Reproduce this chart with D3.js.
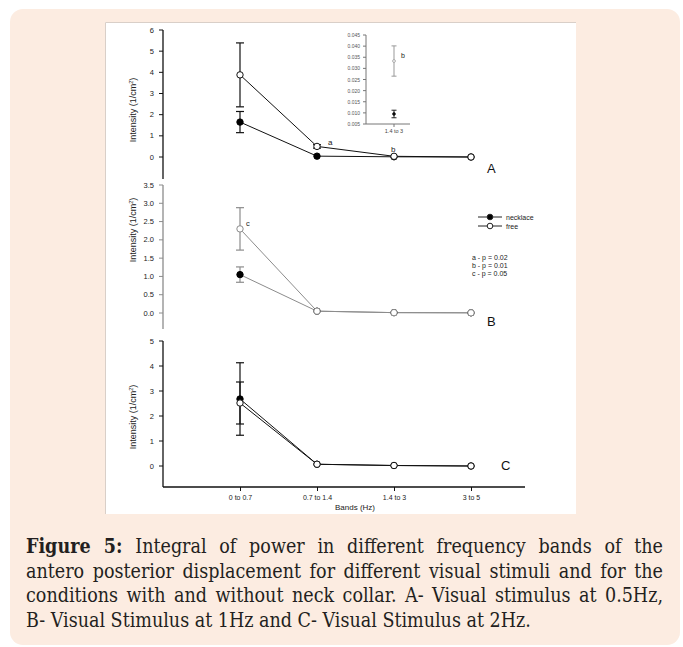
<!DOCTYPE html>
<html>
<head>
<meta charset="utf-8">
<script src="https://cdn.jsdelivr.net/npm/d3@7"></script>
<style>
  body { margin: 0; background: #fff; }
  #card { position: absolute; left: 10px; top: 9px; width: 670px; height: 636px; background: #fcece1; border-radius: 13px; }
  svg#viz { position: absolute; left: 0; top: 0; }
  #caption { position: absolute; left: 26px; top: 535px; width: 637px; font-family: "DejaVu Serif Condensed", "DejaVu Serif", serif; font-stretch: condensed; font-size: 19.5px; color: #231f20; line-height: 24.7px; }
  #caption div { text-align: justify; text-align-last: justify; white-space: nowrap; }
  #caption div.last { text-align-last: left; }
</style>
</head>
<body>
<div id="card"></div>
<svg id="viz" width="683" height="647"></svg>
<div id="caption">
  <div><b>Figure 5:</b> Integral of power in different frequency bands of the</div>
  <div>antero posterior displacement for different visual stimuli and for the</div>
  <div>conditions with and without neck collar. A- Visual stimulus at 0.5Hz,</div>
  <div class="last">B- Visual Stimulus at 1Hz and C- Visual Stimulus at 2Hz.</div>
</div>
<script>
// frequency bands (x categories)
const bands = ["0 to 0.7", "0.7 to 1.4", "1.4 to 3", "3 to 5"]

// A - visual stimulus 0.5Hz
const necklaceA = [1.65, 0.04, 0.0095, 0.0]
const necklaceAErr = [0.5, 0, 0, 0]
const freeA = [3.88, 0.5, 0.033, 0.0]
const freeAErr = [1.51, 0.08, 0, 0]
const ticksA = [0, 1, 2, 3, 4, 5, 6]

// inset of A at 1.4 to 3
const insetBand = ["1.4 to 3"]
const insetNecklace = [0.0095]
const insetNecklaceErr = [0.0017]
const insetFree = [0.0333]
const insetFreeErr = [0.0068]
const ticksInset = [0.005, 0.010, 0.015, 0.020, 0.025, 0.030, 0.035, 0.040, 0.045]

// B - visual stimulus 1Hz
const necklaceB = [1.05, 0.05, 0.01, 0.005]
const necklaceBErr = [0.21, 0, 0, 0]
const freeB = [2.3, 0.05, 0.01, 0.005]
const freeBErr = [0.58, 0, 0, 0]
const ticksB = [0, 0.5, 1, 1.5, 2, 2.5, 3, 3.5]

// C - visual stimulus 2Hz
const necklaceC = [2.68, 0.07, 0.02, 0.0]
const necklaceCErr = [1.45, 0, 0, 0]
const freeC = [2.52, 0.07, 0.02, 0.0]
const freeCErr = [0.84, 0, 0, 0]
const ticksC = [0, 1, 2, 3, 4, 5]

const pvals = ["a - p = 0.02", "b - p = 0.01", "c - p = 0.05"]

const svg = d3.select("svg#viz")
const FONT = "Liberation Sans, Arial, sans-serif"

// white figure panel
svg.append("rect").attr("x", 105).attr("y", 22).attr("width", 471).attr("height", 492)
    .attr("fill", "#fff")
svg.append("path").attr("d", "M105.5,514 V22.5 H576").attr("fill", "none").attr("stroke", "#d9cfc8")

const x = d3.scalePoint().domain(bands).range([240, 471])
const AXIS_X = 163

function panel(cfg) {
    const g = svg.append("g")
    const y = d3.scaleLinear().domain(cfg.domain).range(cfg.range)
    const col = cfg.color

    // y axis
    g.append("line").attr("x1", AXIS_X).attr("x2", AXIS_X)
        .attr("y1", cfg.range[1]).attr("y2", cfg.axisBottom)
        .attr("stroke", col).attr("stroke-width", 1.3)
    g.selectAll("line.tick").data(cfg.ticks).join("line")
        .attr("x1", AXIS_X - 4).attr("x2", AXIS_X)
        .attr("y1", d => y(d)).attr("y2", d => y(d))
        .attr("stroke", col)
    g.selectAll("text.tick").data(cfg.ticks).join("text")
        .attr("x", AXIS_X - 9).attr("y", d => y(d) + 2.5)
        .attr("text-anchor", "end").attr("font-family", FONT).attr("font-size", 7.5)
        .attr("fill", "#222")
        .text(cfg.fmt)
    // y title
    g.append("text")
        .attr("transform", `translate(136,${cfg.titleY}) rotate(-90)`)
        .attr("text-anchor", "middle").attr("font-family", "Liberation Sans Narrow, Liberation Sans, sans-serif")
        .attr("font-size", 9).attr("fill", "#222")
        .html("Intensity (1/cm<tspan dy='-3' font-size='5.5'>2</tspan><tspan dy='3'>)</tspan>")

    // necklace first, free drawn on top
    const series = [
        {vals: cfg.necklace, err: cfg.necklaceErr, fill: "#000"},
        {vals: cfg.free, err: cfg.freeErr, fill: "#fff"}
    ]
    const line = d3.line().x((d, i) => x(bands[i])).y(d => y(d))
    series.forEach(s => {
        g.append("path").attr("d", line(s.vals)).attr("fill", "none")
            .attr("stroke", col).attr("stroke-width", 1)
        s.vals.forEach((v, i) => {
            if (s.err[i] > 0) {
                const cx = x(bands[i])
                const eg = g.append("g").attr("stroke", col).attr("stroke-width", 1.2)
                eg.append("line").attr("x1", cx).attr("x2", cx)
                    .attr("y1", y(v - s.err[i])).attr("y2", y(v + s.err[i]))
                ;[v - s.err[i], v + s.err[i]].forEach(e => {
                    eg.append("line").attr("x1", cx - 4).attr("x2", cx + 4)
                        .attr("y1", y(e)).attr("y2", y(e))
                })
            }
        })
    })
    series.forEach(s => {
        g.selectAll(null).data(s.vals).join("circle")
            .attr("cx", (d, i) => x(bands[i])).attr("cy", d => y(d))
            .attr("r", 3.2).attr("fill", s.fill)
            .attr("stroke", s.fill === "#000" ? "#000" : col).attr("stroke-width", 1)
    })
    // panel letter
    g.append("text").attr("x", cfg.letterX).attr("y", cfg.letterY)
        .attr("font-family", FONT).attr("font-size", 13).attr("fill", "#111").text(cfg.letter)
    return {g, y}
}

const A = panel({domain: [0, 6], range: [157, 30], axisBottom: 179, ticks: ticksA, fmt: d3.format("d"),
    titleY: 110, color: "#111", necklace: necklaceA, necklaceErr: necklaceAErr, free: freeA, freeErr: freeAErr,
    letter: "A", letterX: 487, letterY: 173})
A.g.append("text").attr("x", x(bands[1]) + 11).attr("y", A.y(0.55)).attr("font-family", FONT)
    .attr("font-size", 8).attr("fill", "#222").text("a")
A.g.append("text").attr("x", x(bands[2]) - 3).attr("y", A.y(0.22)).attr("font-family", FONT)
    .attr("font-size", 8).attr("fill", "#222").text("b")

const B = panel({domain: [0, 3.5], range: [313, 185], axisBottom: 329, ticks: ticksB, fmt: d3.format(".1f"),
    titleY: 230, color: "#8c8c8c", necklace: necklaceB, necklaceErr: necklaceBErr, free: freeB, freeErr: freeBErr,
    letter: "B", letterX: 487, letterY: 326})
B.g.append("text").attr("x", x(bands[0]) + 6).attr("y", B.y(2.38)).attr("font-family", FONT)
    .attr("font-size", 7.5).attr("fill", "#222").text("c")

const C = panel({domain: [0, 5], range: [466, 341], axisBottom: 487, ticks: ticksC, fmt: d3.format("d"),
    titleY: 417, color: "#111", necklace: necklaceC, necklaceErr: necklaceCErr, free: freeC, freeErr: freeCErr,
    letter: "C", letterX: 501, letterY: 470})

// x axis under panel C
const xAxis = d3.axisBottom(x).tickSize(4).tickSizeOuter(0)
const xg = svg.append("g").attr("transform", "translate(0,487)").call(xAxis)
xg.select(".domain").remove()
xg.append("line").attr("x1", AXIS_X).attr("x2", 525).attr("stroke", "#111").attr("stroke-width", 1.3)
xg.selectAll(".tick line").attr("stroke", "#111")
xg.selectAll(".tick text").attr("font-family", FONT).attr("font-size", 7).attr("fill", "#222").attr("y", 8)
svg.append("text").attr("x", x(bands[1]) + 38).attr("y", 510).attr("text-anchor", "middle")
    .attr("font-family", FONT).attr("font-size", 8).attr("fill", "#222").text("Bands (Hz)")

// inset
const ix = d3.scalePoint().domain(insetBand).range([394, 394])
const iy = d3.scaleLinear().domain([0.005, 0.045]).range([124, 35])
const inset = svg.append("g")
inset.append("line").attr("x1", 366).attr("x2", 366).attr("y1", 35).attr("y2", 124).attr("stroke", "#777")
inset.append("line").attr("x1", 366).attr("x2", 410).attr("y1", 124).attr("y2", 124).attr("stroke", "#777")
inset.append("line").attr("x1", ix(insetBand[0])).attr("x2", ix(insetBand[0])).attr("y1", 124).attr("y2", 127).attr("stroke", "#777")
inset.selectAll("line.t").data(ticksInset).join("line")
    .attr("x1", 363).attr("x2", 366).attr("y1", d => iy(d)).attr("y2", d => iy(d)).attr("stroke", "#777")
inset.selectAll("text.t").data(ticksInset).join("text")
    .attr("x", 360).attr("y", d => iy(d) + 2).attr("text-anchor", "end")
    .attr("font-family", FONT).attr("font-size", 5).attr("fill", "#555").text(d3.format(".3f"))
inset.append("text").attr("x", ix(insetBand[0])).attr("y", 133).attr("text-anchor", "middle")
    .attr("font-family", FONT).attr("font-size", 5.5).attr("fill", "#444").text(insetBand[0])
const insetSeries = [
    {v: insetFree[0], e: insetFreeErr[0], col: "#999", fill: "#fff"},
    {v: insetNecklace[0], e: insetNecklaceErr[0], col: "#222", fill: "#000"}
]
insetSeries.forEach(s => {
    const cx = ix(insetBand[0])
    inset.append("line").attr("x1", cx).attr("x2", cx).attr("y1", iy(s.v - s.e)).attr("y2", iy(s.v + s.e)).attr("stroke", s.col)
    ;[s.v - s.e, s.v + s.e].forEach(e => inset.append("line").attr("x1", cx - 2.5).attr("x2", cx + 2.5)
        .attr("y1", iy(e)).attr("y2", iy(e)).attr("stroke", s.col))
    inset.append("circle").attr("cx", cx).attr("cy", iy(s.v)).attr("r", 1.4).attr("fill", s.fill).attr("stroke", s.col).attr("stroke-width", 0.8)
})
inset.append("text").attr("x", ix(insetBand[0]) + 7).attr("y", iy(0.0345)).attr("font-family", FONT)
    .attr("font-size", 7).attr("fill", "#222").text("b")

// legend
const legend = svg.append("g").attr("font-family", FONT).attr("font-size", 7).attr("fill", "#222")
;[{name: "necklace", fill: "#000", y: 217}, {name: "free", fill: "#fff", y: 226}].forEach(d => {
    legend.append("line").attr("x1", 478).attr("x2", 502).attr("y1", d.y).attr("y2", d.y).attr("stroke", "#222")
    legend.append("circle").attr("cx", 490).attr("cy", d.y).attr("r", 2.8).attr("fill", d.fill).attr("stroke", "#222")
    legend.append("text").attr("x", 506).attr("y", d.y + 2.5).text(d.name)
})
legend.selectAll("text.p").data(pvals).join("text")
    .attr("x", 472).attr("y", (d, i) => 260 + i * 8).text(d => d)
</script>
</body>
</html>
